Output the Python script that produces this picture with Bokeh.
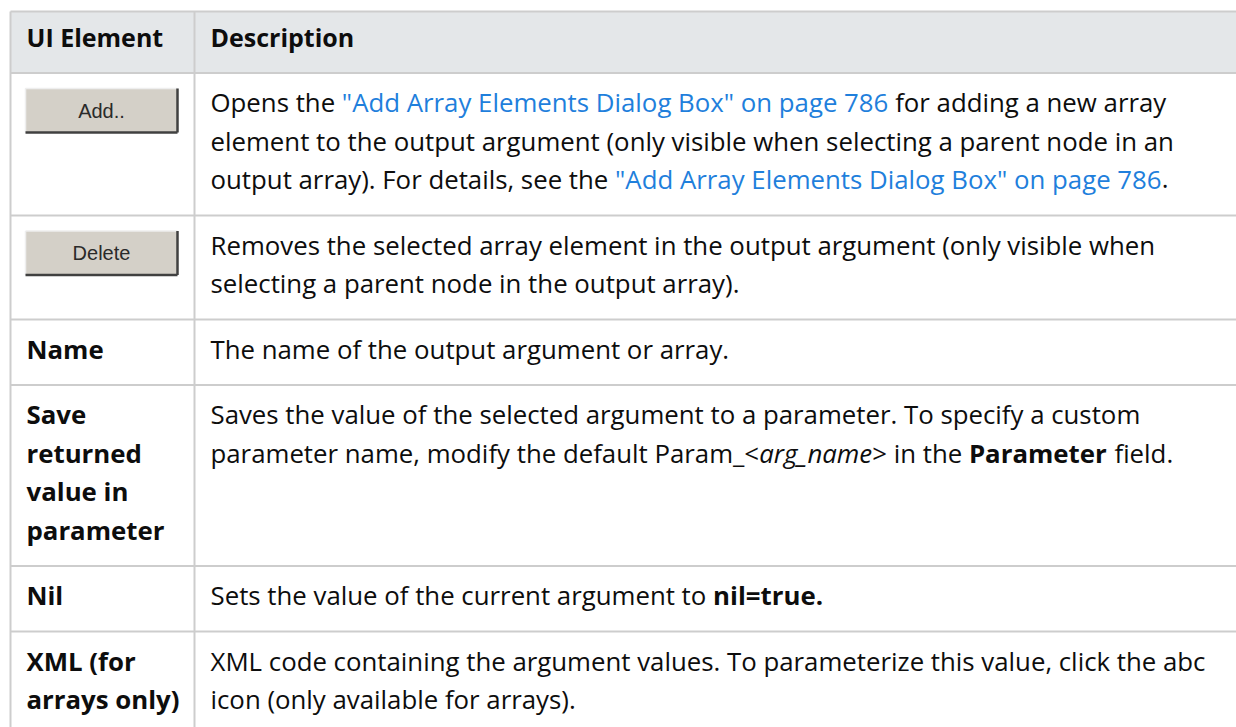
import os
import glob
import struct
import subprocess

from bokeh.plotting import figure
from bokeh.models import Range1d, ColumnDataSource
from bokeh.core.properties import value
from bokeh.embed import file_html
from bokeh.resources import INLINE

# ---------------- table content ----------------
column_headers = ["UI Element", "Description"]

element_kinds = ["button", "button", "label", "label", "label", "label"]

element_lines = [
    ["Add.."],
    ["Delete"],
    ["Name"],
    ["Save", "returned", "value in", "parameter"],
    ["Nil"],
    ["XML (for", "arrays only)"],
]

# runs: (text, style)  n = normal, l = link, b = bold, i = italic
description_lines = [
    [
        [("Opens the ", "n"), ('"Add Array Elements Dialog Box" on page 786', "l"), (" for adding a new array", "n")],
        [("element to the output argument (only visible when selecting a parent node in an", "n")],
        [("output array). For details, see the ", "n"), ('"Add Array Elements Dialog Box" on page 786', "l"), (".", "n")],
    ],
    [
        [("Removes the selected array element in the output argument (only visible when", "n")],
        [("selecting a parent node in the output array).", "n")],
    ],
    [
        [("The name of the output argument or array.", "n")],
    ],
    [
        [("Saves the value of the selected argument to a parameter. To specify a custom", "n")],
        [("parameter name, modify the default Param_<", "n"), ("arg_name", "i"), ("> in the ", "n"),
         ("Parameter", "b"), (" field.", "n")],
    ],
    [
        [("Sets the value of the current argument to ", "n"), ("nil=true.", "b")],
    ],
    [
        [("XML code containing the argument values. To parameterize this value, click the abc", "n")],
        [("icon (only available for arrays).", "n")],
    ],
]

# ---------------- layout / style ----------------
W, H = 1236, 727
FONT = "Open Sans"
BODY_PX = 25.8
HEAD_PX = 25
BTN_FONT = "Liberation Sans"
BTN_PX = 20
LINE_H = 38.5
ROW_PAD = 27
FIRST_BASE = 29
HEAD_TOP = 11
HEAD_BOTTOM = 72.5
HEAD_BASE = 36
TABLE_X0 = 10
COL_X = 194
RIGHT_X = 1260
BOTTOM_Y = 760
TEXT_PAD = 16
BORDER = "#cdcdcd"
HEAD_FILL = "#e4e7e9"
TEXT_COLOR = "#0d0d0d"
LINK_COLOR = "#1f7fdc"
BTN_FACE = "#d4d0c8"


# ---------------- font metrics (for inline runs) ----------------
def font_file(family, style):
    try:
        r = subprocess.run(["fc-match", "-f", "%{file}", f"{family}:{style}"],
                           capture_output=True, text=True, timeout=10)
        f = r.stdout.strip()
        if f and os.path.exists(f):
            return f
    except Exception:
        pass
    key = family.replace(" ", "")
    cands = glob.glob(f"/usr/share/fonts/**/{key}*.ttf", recursive=True)
    if cands:
        want = {"regular": "Regular", "bold": "Bold", "italic": "Italic"}[style]
        for c in cands:
            if os.path.basename(c).endswith(f"-{want}.ttf"):
                return c
        return cands[0]
    return None


class Metrics:
    def __init__(self, path, scale=1.0):
        self.scale = scale
        self.ok = False
        try:
            self._load(path)
            self.ok = True
        except Exception:
            pass

    def _load(self, path):
        d = open(path, "rb").read()
        off = 0
        if d[:4] == b"ttcf":
            off = struct.unpack(">I", d[12:16])[0]
        n = struct.unpack(">H", d[off + 4:off + 6])[0]
        tabs = {}
        for i in range(n):
            r = off + 12 + 16 * i
            tag, _, o, _ln = struct.unpack(">4sIII", d[r:r + 16])
            tabs[tag] = o
        h = tabs[b"head"]
        self.upem = struct.unpack(">H", d[h + 18:h + 20])[0]
        hh = tabs[b"hhea"]
        nh = struct.unpack(">H", d[hh + 34:hh + 36])[0]
        hm = tabs[b"hmtx"]
        self.adv = [struct.unpack(">H", d[hm + 4 * i:hm + 4 * i + 2])[0] for i in range(nh)]
        cm = tabs[b"cmap"]
        nsub = struct.unpack(">H", d[cm + 2:cm + 4])[0]
        self.cmap = {}
        for i in range(nsub):
            pid, eid, so = struct.unpack(">HHI", d[cm + 4 + 8 * i:cm + 12 + 8 * i])
            o = cm + so
            fmt = struct.unpack(">H", d[o:o + 2])[0]
            if fmt != 4 or self.cmap:
                continue
            segx2 = struct.unpack(">H", d[o + 6:o + 8])[0]
            sc = segx2 // 2
            ends = struct.unpack(">%dH" % sc, d[o + 14:o + 14 + segx2])
            starts = struct.unpack(">%dH" % sc, d[o + 16 + segx2:o + 16 + 2 * segx2])
            deltas = struct.unpack(">%dh" % sc, d[o + 16 + 2 * segx2:o + 16 + 3 * segx2])
            rp = o + 16 + 3 * segx2
            roffs = struct.unpack(">%dH" % sc, d[rp:rp + segx2])
            for s in range(sc):
                for c in range(starts[s], min(ends[s], 0x2FF) + 1):
                    if roffs[s] == 0:
                        g = (c + deltas[s]) & 0xFFFF
                    else:
                        p = rp + 2 * s + roffs[s] + 2 * (c - starts[s])
                        g = struct.unpack(">H", d[p:p + 2])[0]
                        if g:
                            g = (g + deltas[s]) & 0xFFFF
                    self.cmap[c] = g

    def width(self, text, size):
        if not self.ok:
            return len(text) * 0.53 * size * self.scale
        tot = 0
        last = len(self.adv) - 1
        for ch in text:
            g = self.cmap.get(ord(ch), 0)
            tot += self.adv[min(g, last)]
        return tot / self.upem * size * self.scale


f_reg = font_file(FONT, "regular")
f_bold = font_file(FONT, "bold")
f_ital = font_file(FONT, "italic")
m_reg = Metrics(f_reg) if f_reg else Metrics("")
m_bold = Metrics(f_bold, 1.09 if f_bold == f_reg else 1.0) if f_bold else Metrics("", 1.09)
m_ital = Metrics(f_ital) if f_ital else m_reg
METRICS = {"n": m_reg, "l": m_reg, "b": m_bold, "i": m_ital}

# ---------------- build geometry ----------------
row_tops = []
y = HEAD_BOTTOM
for k in range(len(element_lines)):
    row_tops.append(y)
    n_left = len(element_lines[k]) if element_kinds[k] == "label" else 1
    n = max(n_left, len(description_lines[k]))
    y += n * LINE_H + ROW_PAD
row_bottoms = row_tops[1:] + [y]

runs = {s: {"x": [], "y": [], "text": []} for s in ["n", "l", "b", "i"]}
heads = {"x": [TABLE_X0 + TEXT_PAD, COL_X + TEXT_PAD], "y": [HEAD_BASE, HEAD_BASE],
         "text": list(column_headers)}

btn = {"l": [], "r": [], "t": [], "b": [], "cx": [], "cy": [], "text": []}

for k, top in enumerate(row_tops):
    if element_kinds[k] == "button":
        bl, br = TABLE_X0 + 15, TABLE_X0 + 167
        bt, bb = top + 15.5, top + 59.5
        btn["l"].append(bl)
        btn["r"].append(br)
        btn["t"].append(bt)
        btn["b"].append(bb)
        btn["cx"].append((bl + br) / 2)
        btn["cy"].append((bt + bb) / 2)
        btn["text"].append(element_lines[k][0])
    else:
        for j, line in enumerate(element_lines[k]):
            runs["b"]["x"].append(TABLE_X0 + TEXT_PAD)
            runs["b"]["y"].append(top + FIRST_BASE + j * LINE_H)
            runs["b"]["text"].append(line)
    for j, line in enumerate(description_lines[k]):
        xx = COL_X + TEXT_PAD
        yy = top + FIRST_BASE + j * LINE_H
        for txt, st in line:
            m = METRICS[st]
            stripped = txt.lstrip()
            lead = txt[: len(txt) - len(stripped)]
            x_draw = xx + m.width(lead, BODY_PX)
            if stripped.strip():
                runs[st]["x"].append(x_draw)
                runs[st]["y"].append(yy)
                runs[st]["text"].append(stripped.rstrip())
            xx += m.width(txt, BODY_PX)

# ---------------- figure ----------------
p = figure(width=W, height=H, x_range=Range1d(0, W), y_range=Range1d(H, 0),
           output_backend="svg", toolbar_location=None, min_border=0,
           x_axis_location=None, y_axis_location=None)
p.grid.visible = False
p.outline_line_color = None
p.background_fill_color = "white"
p.border_fill_color = "white"

# header background
p.quad(left=[TABLE_X0], right=[RIGHT_X], top=[HEAD_TOP], bottom=[HEAD_BOTTOM],
       fill_color=HEAD_FILL, line_color=None)

# grid lines
hy = [HEAD_TOP, HEAD_BOTTOM] + row_bottoms[:-1]
p.segment(x0=[TABLE_X0] * len(hy), x1=[RIGHT_X] * len(hy), y0=hy, y1=hy,
          line_color=BORDER, line_width=2)
vx = [TABLE_X0, COL_X]
p.segment(x0=vx, x1=vx, y0=[HEAD_TOP] * 2, y1=[BOTTOM_Y] * 2, line_color=BORDER, line_width=2)

# buttons
bsrc = ColumnDataSource(btn)
p.quad(left="l", right="r", top="t", bottom="b", source=bsrc, fill_color=BTN_FACE, line_color=None)
p.segment(x0="l", x1="r", y0="t", y1="t", source=bsrc, line_color="#eeeeee", line_width=1.5)
p.segment(x0="l", x1="l", y0="t", y1="b", source=bsrc, line_color="#eeeeee", line_width=1.5)
p.segment(x0="r", x1="r", y0="t", y1="b", source=bsrc, line_color="#404040", line_width=2.5)
p.segment(x0="l", x1="r", y0="b", y1="b", source=bsrc, line_color="#404040", line_width=2.5)
p.text(x="cx", y="cy", text="text", source=bsrc, text_font=value(BTN_FONT),
       text_font_size=value(f"{BTN_PX}px"), text_color="#2a2a2a",
       text_align="center", text_baseline="middle")

# header texts
p.text(x="x", y="y", text="text", source=ColumnDataSource(heads), text_font=value(FONT),
       text_font_size=value(f"{HEAD_PX}px"), text_font_style="bold", text_color=TEXT_COLOR,
       text_align="left", text_baseline="alphabetic")

styles = {
    "n": ("normal", TEXT_COLOR),
    "l": ("normal", LINK_COLOR),
    "b": ("bold", TEXT_COLOR),
    "i": ("italic", TEXT_COLOR),
}
for st, (fs, col) in styles.items():
    src = ColumnDataSource(runs[st])
    p.text(x="x", y="y", text="text", source=src, text_font=value(FONT),
           text_font_size=value(f"{BODY_PX}px"), text_font_style=fs, text_color=col,
           text_align="left", text_baseline="alphabetic")

open("out.html", "w").write(file_html(p, INLINE))
